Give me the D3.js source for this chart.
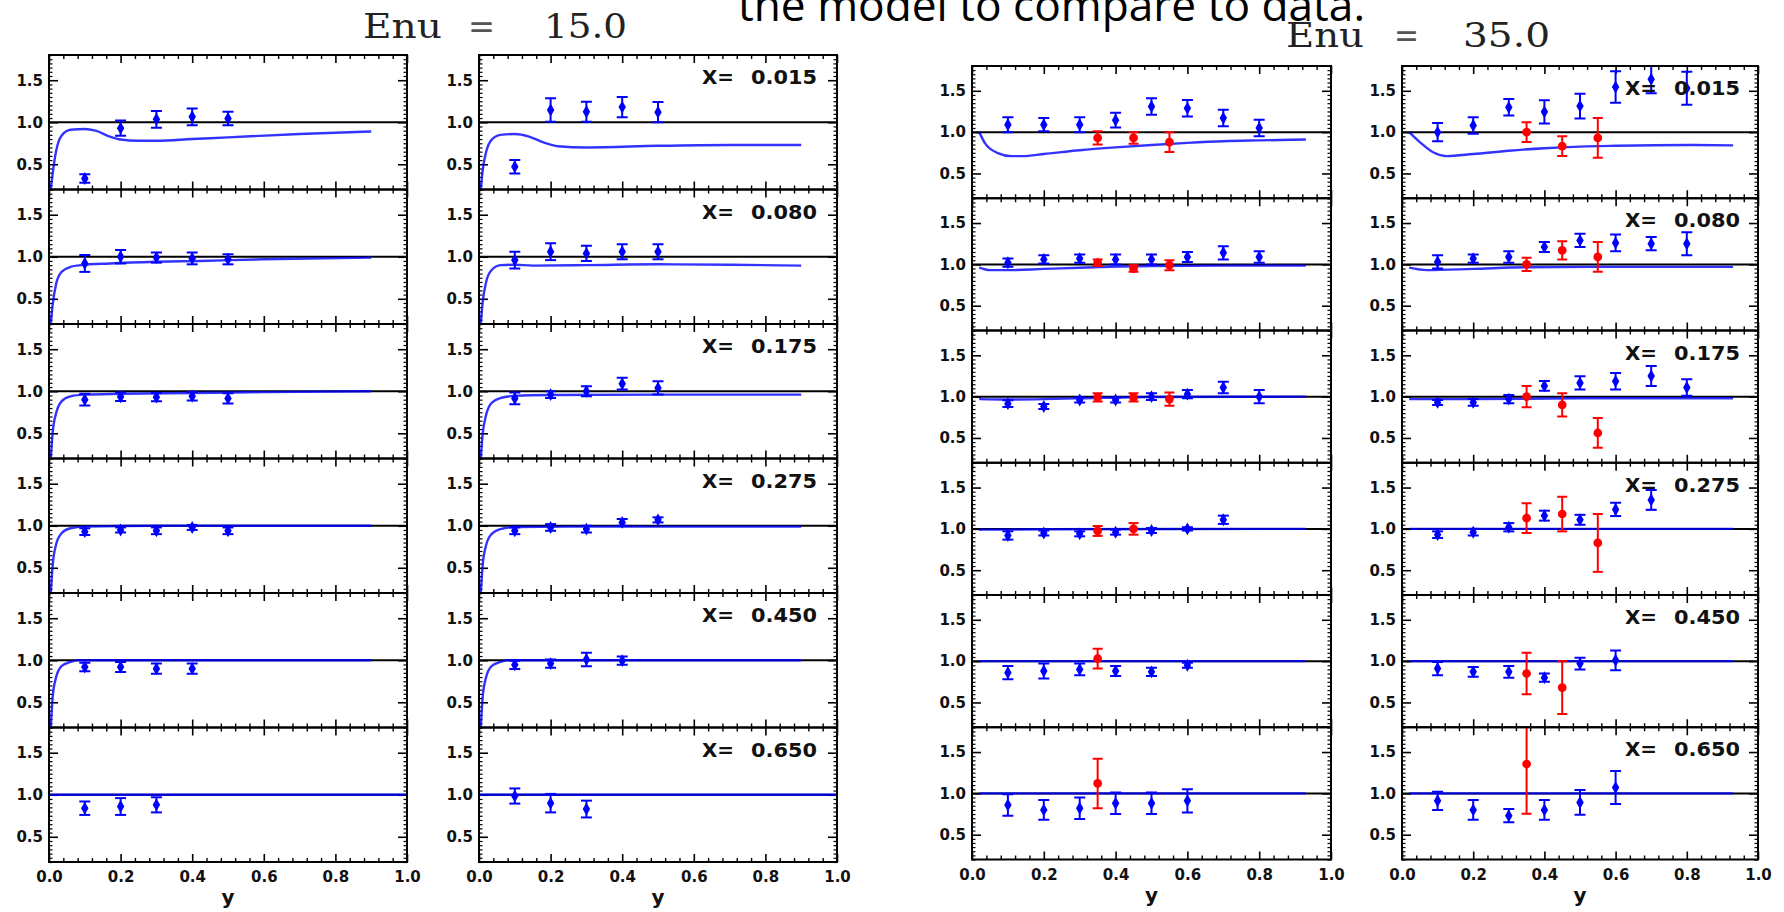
<!DOCTYPE html>
<html>
<head>
<meta charset="utf-8">
<script src="https://cdn.jsdelivr.net/npm/d3@7"></script>
<style>
  body { margin: 0; background: #fff; }
  svg { display: block; }
</style>
</head>
<body>
<svg id="chart" width="1784" height="912"></svg>
<script>
const energies = ['15.0', '35.0'];
const xBins = ['0.015', '0.080', '0.175', '0.275', '0.450', '0.650'];
const xTicks = [0, 0.2, 0.4, 0.6, 0.8, 1.0];
const yTicks = [0.5, 1.0, 1.5];

// y positions of the points, one list per X bin (panel row)
const yPts15 = [
  [0.1, 0.2, 0.3, 0.4, 0.5], [0.1, 0.2, 0.3, 0.4, 0.5], [0.1, 0.2, 0.3, 0.4, 0.5],
  [0.1, 0.2, 0.3, 0.4, 0.5], [0.1, 0.2, 0.3, 0.4], [0.1, 0.2, 0.3]
];
const yPts35a = [
  [0.1, 0.2, 0.3, 0.4, 0.5, 0.6, 0.7, 0.8], [0.1, 0.2, 0.3, 0.4, 0.5, 0.6, 0.7, 0.8],
  [0.1, 0.2, 0.3, 0.4, 0.5, 0.6, 0.7, 0.8], [0.1, 0.2, 0.3, 0.4, 0.5, 0.6, 0.7],
  [0.1, 0.2, 0.3, 0.4, 0.5, 0.6], [0.1, 0.2, 0.3, 0.4, 0.5, 0.6]
];
const yPts35b = yPts35a;
const yRed35a = [[0.35, 0.45, 0.55], [0.35, 0.45, 0.55], [0.35, 0.45, 0.55], [0.35, 0.45], [0.35], [0.35]];
const yRed35b = [[0.35, 0.45, 0.55], [0.35, 0.45, 0.55], [0.35, 0.45, 0.55], [0.35, 0.45, 0.55], [0.35, 0.45], [0.35]];

// Enu = 15, left column
const e15a_val = [
  [0.33, 0.93, 1.035, 1.065, 1.045], [0.92, 1.0, 0.99, 0.98, 0.97], [0.90, 0.935, 0.93, 0.94, 0.915],
  [0.93, 0.95, 0.94, 0.98, 0.94], [0.92, 0.92, 0.90, 0.90], [0.84, 0.86, 0.88]
];
const e15a_err = [
  [0.05, 0.09, 0.1, 0.1, 0.08], [0.1, 0.08, 0.06, 0.07, 0.06], [0.07, 0.05, 0.05, 0.05, 0.06],
  [0.04, 0.03, 0.04, 0.03, 0.04], [0.05, 0.06, 0.06, 0.06], [0.08, 0.1, 0.09]
];
const e15a_fit = [
  [[0.005, 0.2], [0.01, 0.38], [0.02, 0.66], [0.035, 0.84], [0.06, 0.91], [0.1, 0.92], [0.13, 0.9], [0.17, 0.83], [0.2, 0.795], [0.25, 0.78], [0.3, 0.78], [0.4, 0.8], [0.5, 0.82], [0.7, 0.86], [0.9, 0.89]],
  [[0.005, 0.2], [0.01, 0.42], [0.02, 0.68], [0.035, 0.82], [0.06, 0.88], [0.09, 0.9], [0.17, 0.92], [0.3, 0.94], [0.42, 0.95], [0.6, 0.97], [0.9, 0.99]],
  [[0.005, 0.2], [0.01, 0.5], [0.02, 0.74], [0.035, 0.88], [0.06, 0.94], [0.1, 0.96], [0.2, 0.97], [0.4, 0.98], [0.6, 0.99], [0.9, 1.0]],
  [[0.005, 0.2], [0.01, 0.52], [0.02, 0.78], [0.035, 0.91], [0.06, 0.97], [0.1, 0.99], [0.3, 1.0], [0.9, 1.0]],
  [[0.005, 0.2], [0.01, 0.55], [0.02, 0.8], [0.035, 0.93], [0.06, 0.98], [0.08, 1.0], [0.9, 1.0]],
  [[0, 1.0], [1, 1.0]]
];

// Enu = 15, right column
const e15b_val = [
  [0.47, 1.145, 1.125, 1.18, 1.12], [0.96, 1.06, 1.04, 1.06, 1.06], [0.915, 0.96, 1.0, 1.09, 1.04],
  [0.94, 0.98, 0.96, 1.04, 1.07], [0.945, 0.96, 1.01, 0.995], [0.985, 0.90, 0.83]
];
const e15b_err = [
  [0.08, 0.14, 0.12, 0.12, 0.12], [0.1, 0.1, 0.09, 0.09, 0.09], [0.07, 0.04, 0.06, 0.07, 0.08],
  [0.04, 0.04, 0.04, 0.04, 0.03], [0.05, 0.05, 0.08, 0.05], [0.09, 0.11, 0.1]
];
const e15b_fit = [
  [[0.005, 0.2], [0.01, 0.42], [0.02, 0.65], [0.035, 0.79], [0.06, 0.85], [0.1, 0.86], [0.14, 0.83], [0.18, 0.76], [0.22, 0.715], [0.3, 0.7], [0.5, 0.72], [0.7, 0.73], [0.9, 0.73]],
  [[0.005, 0.2], [0.01, 0.45], [0.02, 0.7], [0.035, 0.84], [0.06, 0.9], [0.1, 0.905], [0.15, 0.895], [0.3, 0.9], [0.5, 0.91], [0.7, 0.905], [0.9, 0.895]],
  [[0.005, 0.2], [0.01, 0.48], [0.02, 0.72], [0.035, 0.86], [0.06, 0.92], [0.1, 0.945], [0.2, 0.955], [0.5, 0.96], [0.9, 0.96]],
  [[0.005, 0.2], [0.01, 0.52], [0.02, 0.77], [0.035, 0.9], [0.06, 0.96], [0.1, 0.985], [0.3, 0.99], [0.9, 0.99]],
  [[0.005, 0.2], [0.01, 0.55], [0.02, 0.8], [0.035, 0.93], [0.06, 0.98], [0.08, 1.0], [0.9, 1.0]],
  [[0, 1.0], [1, 1.0]]
];

// Enu = 35, left column (blue and red sets)
const e35a_val = [
  [1.09, 1.09, 1.09, 1.145, 1.31, 1.29, 1.17, 1.05], [1.02, 1.06, 1.07, 1.06, 1.06, 1.09, 1.14, 1.09],
  [0.915, 0.88, 0.96, 0.96, 1.0, 1.03, 1.11, 1.0], [0.92, 0.95, 0.94, 0.96, 0.98, 1.0, 1.11],
  [0.86, 0.88, 0.90, 0.88, 0.87, 0.95], [0.86, 0.80, 0.82, 0.88, 0.88, 0.91]
];
const e35a_err = [
  [0.09, 0.08, 0.09, 0.09, 0.1, 0.1, 0.1, 0.1], [0.05, 0.05, 0.05, 0.06, 0.06, 0.06, 0.08, 0.07],
  [0.04, 0.03, 0.03, 0.03, 0.04, 0.05, 0.07, 0.08], [0.05, 0.03, 0.03, 0.03, 0.03, 0.02, 0.05],
  [0.08, 0.09, 0.07, 0.06, 0.05, 0.03], [0.13, 0.12, 0.13, 0.13, 0.13, 0.14]
];
const e35a_redVal = [[0.93, 0.93, 0.88], [1.02, 0.95, 0.99], [0.99, 0.99, 0.97], [0.975, 1.0], [1.03], [1.12]];
const e35a_redErr = [[0.08, 0.07, 0.12], [0.04, 0.04, 0.06], [0.05, 0.05, 0.08], [0.06, 0.07], [0.12], [0.3]];
const e35a_fit = [
  [[0.02, 1.0], [0.037, 0.86], [0.07, 0.75], [0.11, 0.71], [0.14, 0.71], [0.2, 0.735], [0.3, 0.78], [0.4, 0.815], [0.5, 0.845], [0.6, 0.87], [0.7, 0.89], [0.8, 0.9], [0.93, 0.91]],
  [[0.02, 0.96], [0.05, 0.93], [0.1, 0.93], [0.2, 0.945], [0.3, 0.96], [0.5, 0.98], [0.7, 0.985], [0.93, 0.985]],
  [[0.02, 0.97], [0.1, 0.965], [0.2, 0.97], [0.3, 0.98], [0.5, 0.995], [0.93, 1.0]],
  [[0.02, 0.99], [0.2, 0.995], [0.93, 1.0]],
  [[0.02, 1.0], [0.93, 1.0]],
  [[0.02, 1.0], [0.93, 1.0]]
];

// Enu = 35, right column
const e35b_val = [
  [1.0, 1.08, 1.30, 1.245, 1.315, 1.545, 1.64, 1.53], [1.03, 1.07, 1.09, 1.21, 1.29, 1.26, 1.25, 1.25],
  [0.93, 0.93, 0.97, 1.13, 1.165, 1.185, 1.25, 1.11], [0.93, 0.96, 1.02, 1.16, 1.11, 1.235, 1.35],
  [0.91, 0.87, 0.87, 0.80, 0.97, 1.01], [0.91, 0.80, 0.73, 0.80, 0.89, 1.07]
];
const e35b_err = [
  [0.11, 0.1, 0.1, 0.14, 0.15, 0.19, 0.17, 0.2], [0.08, 0.05, 0.07, 0.06, 0.08, 0.1, 0.08, 0.14],
  [0.03, 0.04, 0.05, 0.06, 0.08, 0.1, 0.12, 0.1], [0.04, 0.04, 0.05, 0.06, 0.06, 0.08, 0.12],
  [0.08, 0.06, 0.07, 0.05, 0.07, 0.12], [0.11, 0.12, 0.08, 0.12, 0.15, 0.2]
];
const e35b_redVal = [[1.0, 0.83, 0.93], [1.0, 1.17, 1.09], [1.0, 0.90, 0.56], [1.13, 1.18, 0.83], [0.85, 0.68], [1.355]];
const e35b_redErr = [[0.12, 0.12, 0.24], [0.08, 0.11, 0.18], [0.13, 0.14, 0.18], [0.18, 0.21, 0.35], [0.25, 0.32], [0.6]];
const e35b_fit = [
  [[0.02, 1.0], [0.05, 0.88], [0.09, 0.75], [0.125, 0.71], [0.2, 0.735], [0.3, 0.775], [0.4, 0.805], [0.5, 0.825], [0.6, 0.835], [0.8, 0.845], [0.93, 0.84]],
  [[0.02, 0.96], [0.07, 0.93], [0.2, 0.945], [0.35, 0.965], [0.6, 0.97], [0.93, 0.97]],
  [[0.02, 0.97], [0.2, 0.97], [0.5, 0.98], [0.93, 0.98]],
  [[0.02, 1.0], [0.93, 1.0]],
  [[0.02, 1.0], [0.93, 1.0]],
  [[0.02, 1.0], [0.93, 1.0]]
];

const svg = d3.select('#chart');
const BLUE = '#0000ff', RED = '#ff0000';
const tickFont = 'DejaVu Sans, Verdana, sans-serif';

// page layout of the four columns of panels
const columns = [
  { x0: 49, x1: 407, top: 55, bottom: 862, yPts: yPts15, val: e15a_val, err: e15a_err, fit: e15a_fit, labels: false, lblRight: 0 },
  { x0: 479, x1: 837, top: 55, bottom: 862, yPts: yPts15, val: e15b_val, err: e15b_err, fit: e15b_fit, labels: true, lblRight: 20 },
  { x0: 972, x1: 1331, top: 66, bottom: 859.5, yPts: yPts35a, val: e35a_val, err: e35a_err, fit: e35a_fit,
    rPts: yRed35a, rVal: e35a_redVal, rErr: e35a_redErr, labels: false, lblRight: 0 },
  { x0: 1402, x1: 1758, top: 66, bottom: 859.5, yPts: yPts35b, val: e35b_val, err: e35b_err, fit: e35b_fit,
    rPts: yRed35b, rVal: e35b_redVal, rErr: e35b_redErr, labels: true, lblRight: 18 }
];

const minorX = d3.range(0, 26).filter(i => i % 5 !== 0).map(i => i * 0.04);
const minorY = d3.range(4, 37).filter(i => i % 10 !== 0).map(i => i * 0.05);

function styleAxis(sel, w) {
  sel.select('.domain').remove();
  sel.selectAll('.tick line').attr('stroke', '#000').attr('stroke-width', w);
  sel.selectAll('text')
    .attr('font-family', tickFont)
    .attr('font-weight', 'bold')
    .attr('font-size', 15)
    .attr('fill', '#111');
}

function drawErrors(g, x, y, pts, vals, errs, color, cap, marker) {
  const data = pts.map((p, i) => ({ p: p, v: vals[i], e: errs[i] }));
  const eb = g.append('g').attr('stroke', color).attr('stroke-width', 2);
  eb.selectAll('line.bar').data(data).enter().append('line')
    .attr('x1', d => x(d.p)).attr('x2', d => x(d.p))
    .attr('y1', d => y(d.v - d.e)).attr('y2', d => y(d.v + d.e));
  eb.selectAll('line.top').data(data).enter().append('line')
    .attr('x1', d => x(d.p) - cap).attr('x2', d => x(d.p) + cap)
    .attr('y1', d => y(d.v + d.e)).attr('y2', d => y(d.v + d.e));
  eb.selectAll('line.bot').data(data).enter().append('line')
    .attr('x1', d => x(d.p) - cap).attr('x2', d => x(d.p) + cap)
    .attr('y1', d => y(d.v - d.e)).attr('y2', d => y(d.v - d.e));
  g.selectAll(null).data(data).enter().append('path')
    .attr('d', d3.symbol().type(marker).size(marker === d3.symbolCircle ? 60 : 48))
    .attr('transform', d => 'translate(' + x(d.p) + ',' + y(d.v) + ')')
    .attr('fill', color);
}

function drawPanel(col, ci, r) {
  const h = (col.bottom - col.top) / 6;
  const pTop = col.top + r * h, pBot = pTop + h;
  const x = d3.scaleLinear().domain([0, 1]).range([col.x0, col.x1]);
  const y = d3.scaleLinear().domain([0.2, 1.8]).range([pBot, pTop]);
  const g = svg.append('g');
  const clipId = 'clip' + ci + '_' + r;
  svg.append('clipPath').attr('id', clipId).append('rect')
    .attr('x', col.x0).attr('y', pTop).attr('width', col.x1 - col.x0).attr('height', h);

  // inward ticks on all four sides
  g.append('g').attr('transform', 'translate(0,' + pBot + ')')
    .call(d3.axisBottom(x).tickValues(xTicks).tickSize(-8).tickPadding(9.5)
      .tickFormat(r === 5 ? d3.format('.1f') : ''))
    .call(s => styleAxis(s, 1.6));
  g.append('g').attr('transform', 'translate(0,' + pBot + ')')
    .call(d3.axisBottom(x).tickValues(minorX).tickSize(-4).tickFormat(''))
    .call(s => styleAxis(s, 1.4));
  g.append('g').attr('transform', 'translate(0,' + pTop + ')')
    .call(d3.axisTop(x).tickValues(xTicks).tickSize(-8).tickFormat(''))
    .call(s => styleAxis(s, 1.6));
  g.append('g').attr('transform', 'translate(0,' + pTop + ')')
    .call(d3.axisTop(x).tickValues(minorX).tickSize(-4).tickFormat(''))
    .call(s => styleAxis(s, 1.4));
  g.append('g').attr('transform', 'translate(' + col.x0 + ',0)')
    .call(d3.axisLeft(y).tickValues(yTicks).tickSize(-9).tickPadding(6).tickFormat(d3.format('.1f')))
    .call(s => styleAxis(s, 1.6));
  g.append('g').attr('transform', 'translate(' + col.x0 + ',0)')
    .call(d3.axisLeft(y).tickValues(minorY).tickSize(-3.5).tickFormat(''))
    .call(s => styleAxis(s, 1.2));
  g.append('g').attr('transform', 'translate(' + col.x1 + ',0)')
    .call(d3.axisRight(y).tickValues(yTicks).tickSize(-9).tickFormat(''))
    .call(s => styleAxis(s, 1.6));
  g.append('g').attr('transform', 'translate(' + col.x1 + ',0)')
    .call(d3.axisRight(y).tickValues(minorY).tickSize(-3.5).tickFormat(''))
    .call(s => styleAxis(s, 1.2));

  // reference line at ratio 1
  g.append('line')
    .attr('x1', col.x0).attr('x2', col.x1).attr('y1', y(1)).attr('y2', y(1))
    .attr('stroke', '#000').attr('stroke-width', 2);

  const inner = g.append('g').attr('clip-path', 'url(#' + clipId + ')');

  const line = d3.line().x(d => x(d[0])).y(d => y(d[1])).curve(d3.curveMonotoneX);
  inner.append('path').datum(col.fit[r])
    .attr('d', line).attr('fill', 'none')
    .attr('stroke', BLUE).attr('stroke-width', 2.4).attr('stroke-opacity', 0.8);

  if (col.labels) {
    const right = col.x1 - col.lblRight;
    const by = pTop + 29;
    g.append('text').attr('x', right - 115).attr('y', by)
      .attr('font-family', tickFont).attr('font-weight', 'bold').attr('font-size', 19)
      .attr('textLength', 32).attr('lengthAdjust', 'spacingAndGlyphs')
      .attr('fill', '#111').text('X=');
    g.append('text').attr('x', right).attr('y', by).attr('text-anchor', 'end')
      .attr('font-family', tickFont).attr('font-weight', 'bold').attr('font-size', 19)
      .attr('textLength', 66).attr('lengthAdjust', 'spacingAndGlyphs')
      .attr('fill', '#111').text(xBins[r]);
  }

  drawErrors(inner, x, y, col.yPts[r], col.val[r], col.err[r], BLUE, 5.5, d3.symbolDiamond);
  if (col.rPts) {
    drawErrors(inner, x, y, col.rPts[r], col.rVal[r], col.rErr[r], RED, 5, d3.symbolCircle);
  }

  g.append('rect')
    .attr('x', col.x0).attr('y', pTop).attr('width', col.x1 - col.x0).attr('height', h)
    .attr('fill', 'none').attr('stroke', '#000').attr('stroke-width', 2);
}

columns.forEach((col, ci) => {
  d3.range(6).forEach(r => drawPanel(col, ci, r));
  svg.append('text')
    .attr('x', (col.x0 + col.x1) / 2).attr('y', ci < 2 ? 904 : 902)
    .attr('text-anchor', 'middle')
    .attr('font-family', tickFont).attr('font-weight', 'bold').attr('font-size', 20)
    .attr('fill', '#111').text('y');
});

// panel-group titles
const titles = [
  { enu: [363, 442], eq: [468, 495], num: [544, 627], base: 38 },
  { enu: [1286, 1364], eq: [1394, 1419], num: [1463, 1550], base: 47 }
];
titles.forEach((t, i) => {
  const parts = [['Enu', t.enu, '#222'], ['=', t.eq, '#555'], [energies[i], t.num, '#222']];
  parts.forEach(p => {
    svg.append('text')
      .attr('x', p[1][0]).attr('y', t.base)
      .attr('font-family', 'DejaVu Serif, Liberation Serif, serif').attr('font-size', 33)
      .attr('textLength', p[1][1] - p[1][0]).attr('lengthAdjust', 'spacingAndGlyphs')
      .attr('fill', p[2]).text(p[0]);
  });
});

// caption line cut at the top of the picture
svg.append('text')
  .attr('x', 738).attr('y', 21)
  .attr('font-family', 'Open Sans, Noto Sans, sans-serif').attr('font-size', 44)
  .attr('textLength', 627).attr('lengthAdjust', 'spacingAndGlyphs')
  .attr('fill', '#000').text('the model to compare to data.');
</script>
</body>
</html>
